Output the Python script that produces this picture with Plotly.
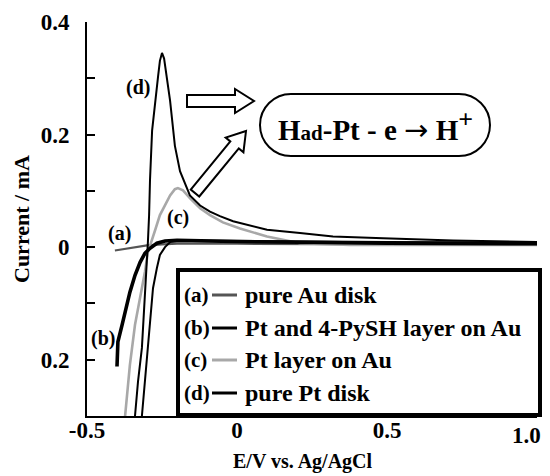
import math
import plotly.graph_objects as go

# ---------------- data ----------------
# (d) pure Pt disk
E_d = [-0.340, -0.330, -0.317, -0.310, -0.303, -0.300, -0.297, -0.293, -0.290, -0.283,
       -0.273, -0.263, -0.257, -0.250, -0.243, -0.233, -0.223, -0.207, -0.190, -0.157,
       -0.123, -0.090, -0.057, -0.013, 0.043, 0.100, 0.210, 0.320, 0.487, 0.720, 1.000]
I_d = [-0.300, -0.239, -0.179, -0.120, -0.062, -0.019, 0.009, 0.057, 0.119, 0.207,
       0.260, 0.304, 0.331, 0.345, 0.335, 0.299, 0.260, 0.180, 0.135, 0.092,
       0.074, 0.063, 0.055, 0.046, 0.038, 0.031, 0.025, 0.019, 0.016, 0.012, 0.009]
# (d) second (cathodic) branch
E_d2 = [-0.317, -0.307, -0.297, -0.290, -0.280, -0.267, -0.257, -0.240, -0.223, -0.190,
        0.000, 0.500, 1.000]
I_d2 = [-0.300, -0.239, -0.179, -0.129, -0.073, -0.037, -0.014, 0.000, 0.009, 0.012,
        0.011, 0.009, 0.008]
# (c) Pt layer on Au
E_c = [-0.373, -0.357, -0.340, -0.323, -0.307, -0.297, -0.283, -0.273, -0.257, -0.240,
       -0.223, -0.207, -0.197, -0.180, -0.157, -0.123, -0.090, -0.047, 0.010, 0.100,
       0.167, 0.210, 0.377, 0.710, 1.000]
I_c = [-0.300, -0.209, -0.138, -0.090, -0.044, -0.009, 0.016, 0.030, 0.057, 0.074,
       0.092, 0.103, 0.105, 0.101, 0.087, 0.069, 0.057, 0.044, 0.033, 0.019,
       0.012, 0.007, 0.004, 0.004, 0.004]
# (b) Pt and 4-PySH layer on Au
E_b = [-0.400, -0.397, -0.383, -0.373, -0.357, -0.340, -0.323, -0.307, -0.290, -0.267,
       -0.240, -0.200, 0.000, 0.500, 1.000]
I_b = [-0.212, -0.168, -0.138, -0.115, -0.080, -0.050, -0.027, -0.011, -0.002, 0.007,
       0.011, 0.012, 0.010, 0.007, 0.006]
# (a) pure Au disk
E_a = [-0.407, -0.370, -0.333, -0.300, -0.250, -0.200, 0.000, 0.500, 1.000]
I_a = [-0.006, -0.003, 0.000, 0.003, 0.005, 0.006, 0.006, 0.005, 0.004]

legend_tags = ["(a)", "(b)", "(c)", "(d)"]
legend_names = ["pure Au disk", "Pt and 4-PySH layer on Au", "Pt layer on Au", "pure Pt disk"]
x_tickvals = [-0.5, 0, 0.5]
x_ticktext = ["-0.5", "0", "0.5"]
x_last_tick = "1.0"
y_tickvals = [-0.3, -0.2, -0.1, 0, 0.1, 0.2, 0.3, 0.4]
y_ticktext = ["", "0.2", "", "0", "", "0.2", "", "0.4"]

# ---------------- styling ----------------
FONT = "Liberation Serif, Times New Roman, serif"
C_A = "#555555"
C_B = "#000000"
C_C = "#a8a8a8"
C_D = "#000000"

W, H = 550, 476
L, R, T, B = 87, 537, 22, 416   # plot area in pixels


def px(x):
    return (x - L) / (R - L)


def py(y):
    return (B - y) / (B - T)


fig = go.Figure()
fig.add_trace(go.Scatter(x=E_a, y=I_a, mode="lines", line=dict(color=C_A, width=2.2), showlegend=False))
fig.add_trace(go.Scatter(x=E_c, y=I_c, mode="lines", line=dict(color=C_C, width=2.6), showlegend=False))
fig.add_trace(go.Scatter(x=E_d2, y=I_d2, mode="lines", line=dict(color=C_D, width=2), showlegend=False))
fig.add_trace(go.Scatter(x=E_b, y=I_b, mode="lines", line=dict(color=C_B, width=3.6), showlegend=False))
fig.add_trace(go.Scatter(x=E_d, y=I_d, mode="lines", line=dict(color=C_D, width=2), showlegend=False))

shapes = []
annotations = []

# ---- curve labels ----
for txt, (x, y) in zip(["(a)", "(b)", "(c)", "(d)"], [(119, 233), (103, 338), (178, 217), (138, 88)]):
    annotations.append(dict(x=px(x), y=py(y), xref="paper", yref="paper", text=txt, showarrow=False,
                            font=dict(family=FONT, size=20, color="black", weight="bold"),
                            xanchor="center", yanchor="middle"))

# ---- legend box ----
shapes.append(dict(type="rect", xref="paper", yref="paper", x0=px(178), x1=px(540), y0=py(415), y1=py(270),
                   line=dict(color="black", width=4), fillcolor="white", layer="above"))
leg_y = [295, 328, 360, 393]
leg_col = [C_A, C_B, C_C, C_D]
for tag, name, yy, col in zip(legend_tags, legend_names, leg_y, leg_col):
    annotations.append(dict(x=px(182), y=py(yy), xref="paper", yref="paper", text=tag, showarrow=False,
                            font=dict(family=FONT, size=21, color="black", weight="bold"),
                            xanchor="left", yanchor="middle"))
    shapes.append(dict(type="line", xref="paper", yref="paper", x0=px(212), x1=px(237), y0=py(yy), y1=py(yy),
                       line=dict(color=col, width=3), layer="above"))
    annotations.append(dict(x=px(243), y=py(yy), xref="paper", yref="paper", text=name, showarrow=False,
                            font=dict(family=FONT, size=24, color="black", weight="bold"),
                            xanchor="left", yanchor="middle"))

# ---- rounded reaction box ----
k = 0.5523
bl, br, bt, bb = 260, 490, 94, 156
r = (bb - bt) / 2
cy = (bt + bb) / 2
cl, cr = bl + r, br - r


def P(x, y):
    return f"{px(x):.5f},{py(y):.5f}"


path = (f"M {P(cl, bt)} L {P(cr, bt)} "
        f"C {P(cr + k*r, bt)} {P(br, cy - k*r)} {P(br, cy)} "
        f"C {P(br, cy + k*r)} {P(cr + k*r, bb)} {P(cr, bb)} "
        f"L {P(cl, bb)} "
        f"C {P(cl - k*r, bb)} {P(bl, cy + k*r)} {P(bl, cy)} "
        f"C {P(bl, cy - k*r)} {P(cl - k*r, bt)} {P(cl, bt)} Z")
shapes.append(dict(type="path", xref="paper", yref="paper", path=path,
                   line=dict(color="black", width=2), fillcolor="rgba(0,0,0,0)"))
annotations.append(dict(x=px(375), y=py(126), xref="paper", yref="paper",
                        text=("H<span style='font-size:21px'>ad</span>-Pt - e "
                              "<span style='font-family:DejaVu Sans;font-weight:normal'>\u2192</span> "
                              "H<sup><span style='font-size:26px'>+</span></sup>"),
                        showarrow=False, font=dict(family=FONT, size=29, color="black", weight="bold"),
                        xanchor="center", yanchor="middle"))


# ---- hollow block arrows ----
def block_arrow(tail, tip, sw, hw, hl):
    tx, ty = tail
    hx, hy = tip
    dx, dy = hx - tx, hy - ty
    ln = math.hypot(dx, dy)
    ux, uy = dx / ln, dy / ln
    nx, ny = -uy, ux
    bx, by = hx - ux * hl, hy - uy * hl
    pts = [
        (tx + nx * sw / 2, ty + ny * sw / 2),
        (bx + nx * sw / 2, by + ny * sw / 2),
        (bx + nx * hw / 2, by + ny * hw / 2),
        (hx, hy),
        (bx - nx * hw / 2, by - ny * hw / 2),
        (bx - nx * sw / 2, by - ny * sw / 2),
        (tx - nx * sw / 2, ty - ny * sw / 2),
    ]
    s = "M " + " L ".join(P(x, y) for x, y in pts) + " Z"
    return dict(type="path", xref="paper", yref="paper", path=s,
                line=dict(color="black", width=2), fillcolor="white")


shapes.append(block_arrow((187, 101), (254, 101), 12, 24, 19))
shapes.append(block_arrow((195, 193), (246, 131), 11, 23, 18))

# ---- last x tick label (kept inside the page) and axis titles ----
annotations.append(dict(x=px(543), y=py(435), xref="paper", yref="paper", text=x_last_tick,
                        showarrow=False, font=dict(family=FONT, size=23, color="black", weight="bold"),
                        xanchor="right", yanchor="middle"))
annotations.append(dict(x=px(303), y=py(461), xref="paper", yref="paper", text="E/V vs. Ag/AgCl",
                        showarrow=False, font=dict(family=FONT, size=20, color="black", weight="bold"),
                        xanchor="center", yanchor="middle"))
annotations.append(dict(x=px(21), y=py(219), xref="paper", yref="paper", text="Current / mA",
                        showarrow=False, textangle=-90,
                        font=dict(family=FONT, size=22, color="black", weight="bold"),
                        xanchor="center", yanchor="middle"))

fig.update_layout(
    width=W, height=H,
    margin=dict(l=L, r=W - R, t=T, b=H - B, autoexpand=False),
    paper_bgcolor="white", plot_bgcolor="white",
    showlegend=False,
    shapes=shapes, annotations=annotations,
    xaxis=dict(range=[-0.5, 1.0], showgrid=False, zeroline=False, showline=True, linecolor="black",
               linewidth=2, ticks="", tickvals=x_tickvals, ticktext=x_ticktext, automargin=False,
               tickfont=dict(family=FONT, size=23, color="black", weight="bold"), ticklabelstandoff=-8),
    yaxis=dict(range=[-0.3, 0.4], showgrid=False, zeroline=False, showline=True, linecolor="black",
               linewidth=2, ticks="inside", ticklen=8, tickwidth=2, tickcolor="black", automargin=False,
               tickvals=y_tickvals, ticktext=y_ticktext,
               tickfont=dict(family=FONT, size=23, color="black", weight="bold"), ticklabelstandoff=11),
)

fig.write_html("out.html", config={"displayModeBar": False},
               post_script="document.body.style.margin='0';document.body.style.padding='0';")
